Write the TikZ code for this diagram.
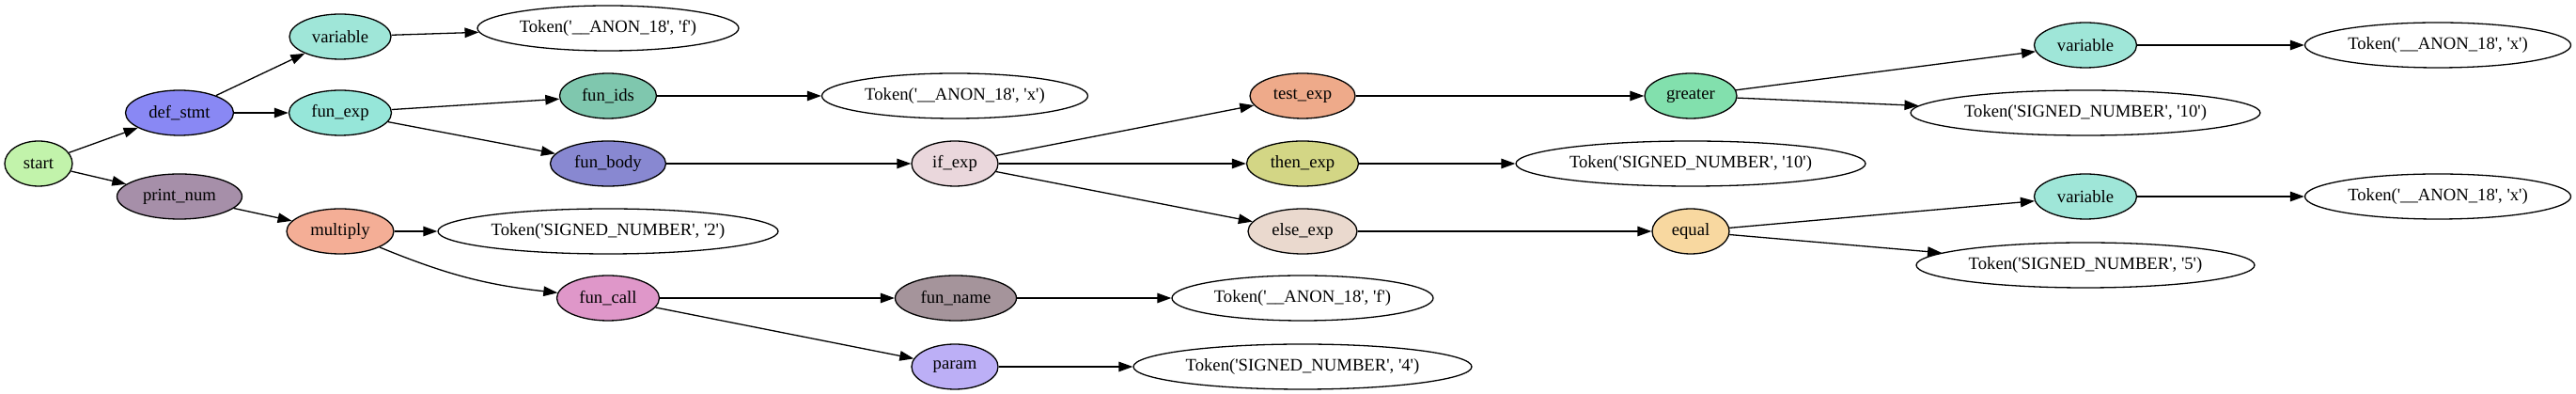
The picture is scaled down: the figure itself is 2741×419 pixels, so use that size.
\documentclass[tikz,border=0pt]{standalone}
\usepackage{fontspec}
\setmainfont{Liberation Serif}
\usetikzlibrary{arrows.meta,shapes.geometric}
\newcommand\sq{\XeTeXglyph\XeTeXcharglyph"0027\relax}
\newcommand\tok[2]{Token(\sq#1\sq, \sq#2\sq)}
\definecolor{cStart}{HTML}{C2F3AB}
\definecolor{cDef}{HTML}{8988F4}
\definecolor{cVar}{HTML}{9FE6D8}
\definecolor{cFunExp}{HTML}{96E6D9}
\definecolor{cMul}{HTML}{F4AE96}
\definecolor{cPrint}{HTML}{A68FA9}
\definecolor{cFunIds}{HTML}{7FC7AE}
\definecolor{cFunBody}{HTML}{8888D1}
\definecolor{cFunCall}{HTML}{DF97C9}
\definecolor{cIf}{HTML}{EAD7DC}
\definecolor{cFunName}{HTML}{A5949B}
\definecolor{cParam}{HTML}{BCAFF6}
\definecolor{cTest}{HTML}{EEAA8A}
\definecolor{cThen}{HTML}{D3D685}
\definecolor{cElse}{HTML}{EAD9CE}
\definecolor{cGreater}{HTML}{82E0AD}
\definecolor{cEqual}{HTML}{F8D8A0}
\begin{document}
\begin{tikzpicture}[x=1pt,y=1pt,
  gv/.style={ellipse, draw=black, line width=1.3pt, inner sep=0pt, minimum height=48pt,
    font=\fontsize{18.67}{22}\selectfont},
  edge/.style={-{Triangle[length=15pt,width=10.5pt]}, line width=1.3pt},
]
\useasboundingbox (0,0) rectangle (2741,419);
% rank 0
\node[gv, fill=cStart, minimum width=72pt] (start) at (41,245) {start};
% rank 1
\node[gv, fill=cDef, minimum width=115pt] (defstmt) at (191,299) {def\_stmt};
\node[gv, fill=cPrint, minimum width=133pt] (printnum) at (191,210) {print\_num};
% rank 2
\node[gv, fill=cVar, minimum width=108pt] (var1) at (362,380) {variable};
\node[gv, fill=cFunExp, minimum width=109pt] (funexp) at (362,299) {fun\_exp};
\node[gv, fill=cMul, minimum width=114pt] (multiply) at (362,173) {multiply};
% rank 3
\node[gv, fill=white, minimum width=278pt] (tokf1) at (647,389) {\tok{\_\_ANON\_18}{f}};
\node[gv, fill=cFunIds, minimum width=103pt] (funids) at (647,317) {fun\_ids};
\node[gv, fill=cFunBody, minimum width=123pt] (funbody) at (647,245) {fun\_body};
\node[gv, fill=white, minimum width=362pt] (tok2) at (647,173) {\tok{SIGNED\_NUMBER}{2}};
\node[gv, fill=cFunCall, minimum width=109pt] (funcall) at (647,102) {fun\_call};
% rank 4
\node[gv, fill=white, minimum width=283pt] (tokx1) at (1016,317) {\tok{\_\_ANON\_18}{x}};
\node[gv, fill=cIf, minimum width=92pt] (ifexp) at (1016,245) {if\_exp};
\node[gv, fill=cFunName, minimum width=129pt] (funname) at (1017,102) {fun\_name};
\node[gv, fill=cParam, minimum width=92pt] (param) at (1016,29) {param};
% rank 5
\node[gv, fill=cTest, minimum width=112pt] (testexp) at (1386,317) {test\_exp};
\node[gv, fill=cThen, minimum width=119pt] (thenexp) at (1386,245) {then\_exp};
\node[gv, fill=cElse, minimum width=116pt] (elseexp) at (1386,173) {else\_exp};
\node[gv, fill=white, minimum width=278pt] (tokf2) at (1386,102) {\tok{\_\_ANON\_18}{f}};
\node[gv, fill=white, minimum width=360pt] (tok4) at (1386,29) {\tok{SIGNED\_NUMBER}{4}};
% rank 6
\node[gv, fill=cGreater, minimum width=98pt] (greater) at (1799,317) {greater};
\node[gv, fill=white, minimum width=372pt] (tok10b) at (1799,245) {\tok{SIGNED\_NUMBER}{10}};
\node[gv, fill=cEqual, minimum width=82pt] (equal) at (1799,173) {equal};
% rank 7
\node[gv, fill=cVar, minimum width=109pt] (var2) at (2219,371) {variable};
\node[gv, fill=white, minimum width=372pt] (tok10a) at (2219,299) {\tok{SIGNED\_NUMBER}{10}};
\node[gv, fill=cVar, minimum width=109pt] (var3) at (2219,210) {variable};
\node[gv, fill=white, minimum width=360pt] (tok5) at (2219,137) {\tok{SIGNED\_NUMBER}{5}};
% rank 8
\node[gv, fill=white, minimum width=283pt] (tokx2) at (2594,371) {\tok{\_\_ANON\_18}{x}};
\node[gv, fill=white, minimum width=283pt] (tokx3) at (2594,210) {\tok{\_\_ANON\_18}{x}};
% edges
\draw[edge] (start) -- (defstmt);
\draw[edge] (start) -- (printnum);
\draw[edge] (defstmt) -- (var1);
\draw[edge] (defstmt) -- (funexp);
\draw[edge] (var1) -- (tokf1);
\draw[edge] (funexp) -- (funids);
\draw[edge] (funexp) -- (funbody);
\draw[edge] (funids) -- (tokx1);
\draw[edge] (funbody) -- (ifexp);
\draw[edge] (ifexp) -- (testexp);
\draw[edge] (ifexp) -- (thenexp);
\draw[edge] (ifexp) -- (elseexp);
\draw[edge] (testexp) -- (greater);
\draw[edge] (greater) -- (var2);
\draw[edge] (greater) -- (tok10a);
\draw[edge] (var2) -- (tokx2);
\draw[edge] (thenexp) -- (tok10b);
\draw[edge] (elseexp) -- (equal);
\draw[edge] (equal) -- (var3);
\draw[edge] (equal) -- (tok5);
\draw[edge] (var3) -- (tokx3);
\draw[edge] (printnum) -- (multiply);
\draw[edge] (multiply) -- (tok2);
\draw[edge] (multiply) to[bend right=8] (funcall);
\draw[edge] (funcall) -- (funname);
\draw[edge] (funcall) -- (param);
\draw[edge] (funname) -- (tokf2);
\draw[edge] (param) -- (tok4);
\end{tikzpicture}
\end{document}
